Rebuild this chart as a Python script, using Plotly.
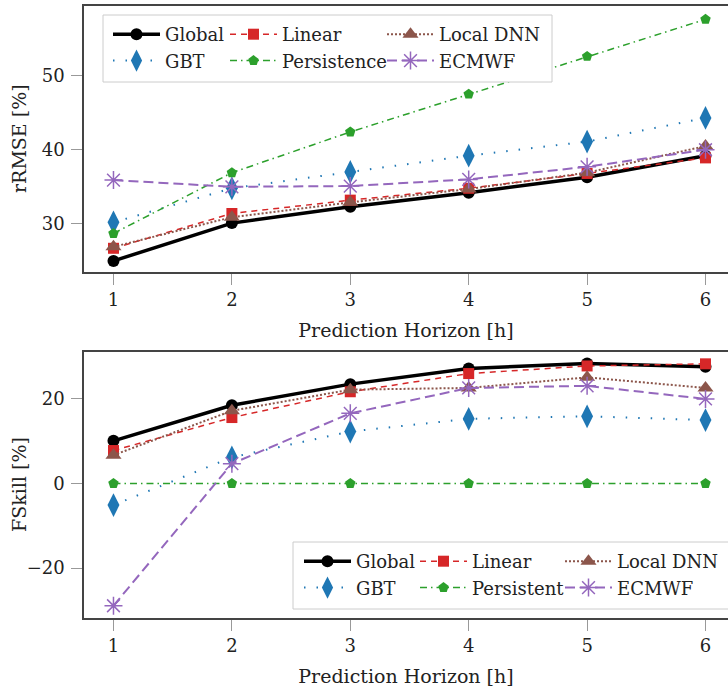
import plotly.graph_objects as go

hours = [1, 2, 3, 4, 5, 6]
x_ticks = [1, 2, 3, 4, 5, 6]

rrmse_global = [25.0, 30.1, 32.3, 34.2, 36.3, 39.2]
rrmse_linear = [26.7, 31.4, 33.2, 34.8, 36.8, 38.9]
rrmse_local_dnn = [26.9, 30.9, 32.9, 34.7, 36.9, 40.5]
rrmse_gbt = [30.2, 34.8, 37.0, 39.2, 41.1, 44.3]
rrmse_persistence = [28.7, 36.9, 42.4, 47.5, 52.6, 57.6]
rrmse_ecmwf = [35.9, 35.0, 35.1, 36.0, 37.7, 40.0]

fskill_global = [10.1, 18.5, 23.5, 27.2, 28.4, 27.6]
fskill_linear = [7.8, 15.6, 21.7, 26.0, 27.8, 28.3]
fskill_local_dnn = [6.7, 17.2, 22.2, 22.6, 25.1, 22.6]
fskill_gbt = [-5.1, 6.2, 12.3, 15.3, 15.9, 15.0]
fskill_persistent = [0, 0, 0, 0, 0, 0]
fskill_ecmwf = [-28.9, 4.7, 16.6, 22.6, 23.1, 20.0]

top_ticks = [30, 40, 50]
bottom_ticks = [-20, 0, 20]

FONT = "DejaVu Serif"
TXT = "#222222"

styles = {
    "Global": dict(color="black", symbol="circle", size=12, dash="solid", width=3.5),
    "Linear": dict(color="#d62728", symbol="square", size=11, dash="6px,5px", width=1.5),
    "Local DNN": dict(color="#8c564b", symbol="triangle-up", size=14, dash="2px,2px", width=2),
    "GBT": dict(color="#1f77b4", symbol="diamond-tall", size=17, dash="1.5px,11px", width=2),
    "Persistence": dict(color="#2ca02c", symbol="pentagon", size=11, dash="7px,4px,1.5px,4px", width=1.5),
    "ECMWF": dict(color="#9467bd", symbol="asterisk-open", size=15, dash="10px,5px", width=2),
}

top_series = [
    ("Global", "Global", rrmse_global, "legend"),
    ("Linear", "Linear", rrmse_linear, "legend2"),
    ("Local DNN", "Local DNN", rrmse_local_dnn, "legend3"),
    ("GBT", "GBT", rrmse_gbt, "legend"),
    ("Persistence", "Persistence", rrmse_persistence, "legend2"),
    ("ECMWF", "ECMWF", rrmse_ecmwf, "legend3"),
]
bottom_series = [
    ("Global", "Global", fskill_global, "legend4"),
    ("Linear", "Linear", fskill_linear, "legend5"),
    ("Local DNN", "Local DNN", fskill_local_dnn, "legend6"),
    ("GBT", "GBT", fskill_gbt, "legend4"),
    ("Persistence", "Persistent", fskill_persistent, "legend5"),
    ("ECMWF", "ECMWF", fskill_ecmwf, "legend6"),
]

fig = go.Figure()


def add(series, xa, ya, tag):
    for key, name, vals, leg in series:
        s = styles[key]
        fig.add_trace(go.Scatter(
            x=hours, y=vals, name=name, mode="lines+markers",
            xaxis=xa, yaxis=ya, legend=leg, legendgroup=tag + name,
            line=dict(color=s["color"], dash=s["dash"], width=s["width"]),
            marker=dict(symbol=s["symbol"], size=s["size"], color=s["color"],
                        line=dict(color=s["color"], width=1.5 if "open" in s["symbol"] else 0)),
            cliponaxis=False,
        ))


add(top_series, "x", "y", "t")
add(bottom_series, "x2", "y2", "b")

L, R, T, B = 84, 0, 6, 70
W, H = 728, 688
PW, PH = W - L - R, H - T - B


def px(xp):
    return (xp - L) / PW


def py(yp):
    return (H - B - yp) / PH


def cx(xp):
    return xp / W


def cy(yp):
    return 1 - yp / H


axis_common = dict(
    showline=True, linecolor="#444444", linewidth=1.5, mirror=False,
    ticks="outside", ticklen=11, tickwidth=1, tickcolor="#999999",
    showgrid=False, zeroline=False, automargin=False,
    tickfont=dict(family=FONT, size=18, color=TXT),
)

xaxis_common = dict(axis_common, range=[0.751, 6.19], tickmode="array", tickvals=x_ticks,
                    mirror=True,
                    title=dict(text="Prediction Horizon [h]", font=dict(family=FONT, size=19, color=TXT), standoff=14))

fig.update_layout(
    width=W, height=H, margin=dict(l=L, r=R, t=T, b=B, autoexpand=False),
    paper_bgcolor="white", plot_bgcolor="white",
    font=dict(family=FONT, color=TXT),
    xaxis=dict(xaxis_common, domain=[0, 1], anchor="y"),
    yaxis=dict(axis_common, domain=[py(272), 1], anchor="x", range=[23.5, 59.4],
               tickmode="array", tickvals=top_ticks, ticklabelstandoff=3),
    xaxis2=dict(xaxis_common, domain=[0, 1], anchor="y2"),
    yaxis2=dict(axis_common, domain=[0, py(352)], anchor="x2", range=[-31.8, 31.1],
                tickmode="array", tickvals=bottom_ticks, ticklabelstandoff=3),
    showlegend=True,
)

y_titles = [("rRMSE [%]", 139), ("FSkill [%]", 485)]
for text, ycen in y_titles:
    fig.add_annotation(text=text, xref="paper", yref="paper", x=px(19), y=py(ycen),
                       xanchor="center", yanchor="middle", textangle=-90, showarrow=False,
                       font=dict(family=FONT, size=19, color=TXT))

leg_common = dict(orientation="v", bgcolor="rgba(0,0,0,0)", borderwidth=0,
                  font=dict(family=FONT, size=18, color=TXT), itemwidth=47,
                  tracegroupgap=3, xanchor="left", yanchor="middle", traceorder="normal",
                  xref="container", yref="container",
                  itemclick=False, itemdoubleclick=False)

fig.update_layout(
    legend=dict(leg_common, x=cx(108), y=cy(47.5)),
    legend2=dict(leg_common, x=cx(225), y=cy(47.5)),
    legend3=dict(leg_common, x=cx(382), y=cy(47.5)),
    legend4=dict(leg_common, x=cx(299), y=cy(574.5)),
    legend5=dict(leg_common, x=cx(415), y=cy(574.5)),
    legend6=dict(leg_common, x=cx(560), y=cy(574.5)),
)

fig.add_shape(type="rect", xref="paper", yref="paper", layer="above",
              x0=px(103), x1=px(552), y0=py(82), y1=py(15),
              fillcolor="white", line=dict(color="#cccccc", width=1))
fig.add_shape(type="rect", xref="paper", yref="paper", layer="above",
              x0=px(293), x1=px(740), y0=py(609), y1=py(542),
              fillcolor="white", line=dict(color="#cccccc", width=1))

fig.write_html("out.html", config={"displayModeBar": False},
               post_script="document.body.style.margin='0';")
